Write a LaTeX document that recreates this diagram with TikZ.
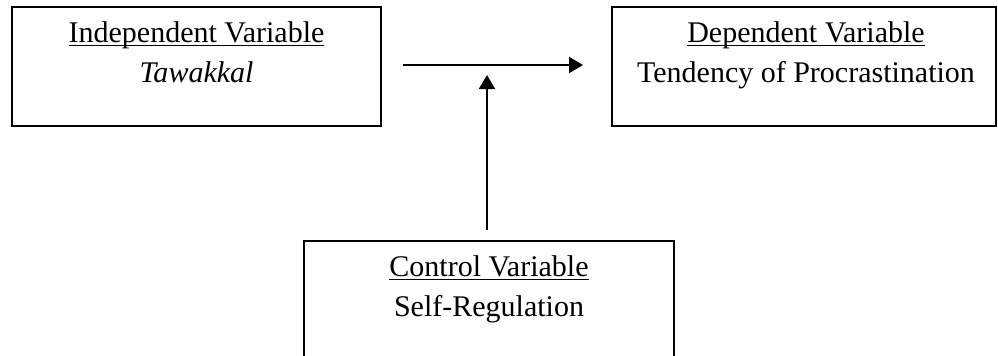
\documentclass[tikz,border=0pt]{standalone}
\usepackage{fontspec}
\setmainfont{Liberation Serif}
\usepackage{tikz}
\usetikzlibrary{arrows.meta}

\newcommand{\vartitle}[1]{\underline{\smash{#1}}}

\tikzset{
  varbox/.style={draw=black, line width=0.8pt, rectangle, inner sep=0pt},
  vartext/.style={anchor=base, inner sep=0pt, font=\fontsize{12}{14}\selectfont},
  link/.style={line width=0.8pt, -{Triangle[length=5.6pt,width=6.4pt]}}
}

\begin{document}
\begin{tikzpicture}[x=0.4pt,y=-0.4pt]
\useasboundingbox (0,0) rectangle (998,355);

\node[varbox, minimum width=147.6pt, minimum height=47.6pt] (indep) at (196.5,66.5) {};
\node[vartext] (indeptitle) at (196.5,42) {\vartitle{Independent Variable}};
\node[vartext] (indepname) at (196.5,82) {\textit{Tawakkal}};

\node[varbox, minimum width=153.6pt, minimum height=47.6pt] (dep) at (804,66.5) {};
\node[vartext] (deptitle) at (806,42) {\vartitle{Dependent Variable}};
\node[vartext] (depname) at (806,82) {Tendency of Procrastination};

\node[varbox, minimum width=148pt, minimum height=52pt] (ctrl) at (489,306) {};
\node[vartext] (ctrltitle) at (489,276) {\vartitle{Control Variable}};
\node[vartext] (ctrlname) at (489,316) {Self-Regulation};

\coordinate (join) at (487,65);
\draw[link, shorten <=8.4pt, shorten >=11.2pt] (indep.east |- join) -- (dep.west |- join);
\draw[link, shorten <=4pt, shorten >=4pt] (join |- ctrl.north) -- (join);
\end{tikzpicture}
\end{document}
